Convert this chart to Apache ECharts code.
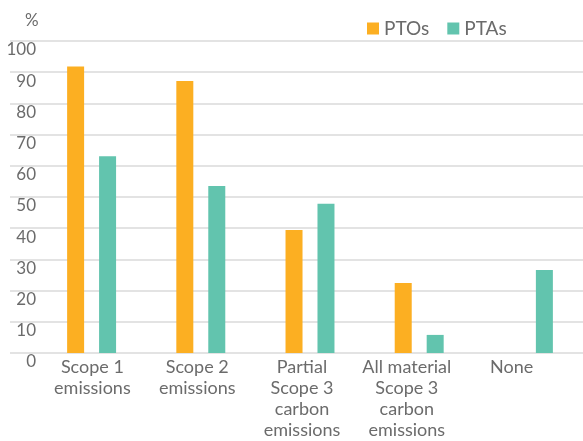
<!DOCTYPE html>
<html>
<head>
<meta charset="utf-8">
<script src="https://cdn.jsdelivr.net/npm/echarts@6/dist/echarts.min.js"></script>
<style>
  html, body { margin: 0; padding: 0; background: #fff; }
  #chart { width: 583px; height: 441px; }
</style>
</head>
<body>
<div id="chart"></div>
<script>
// data
var categories = ['Scope 1\nemissions', 'Scope 2\nemissions', 'Partial\nScope 3\ncarbon\nemissions', 'All material\nScope 3\ncarbon\nemissions', 'None'];
var ptoValues = [91.8, 87.2, 39.4, 22.4, 0];
var ptaValues = [63.1, 53.5, 47.8, 5.8, 26.6];
var seriesNames = ['PTOs', 'PTAs'];
var yTicks = [0, 100, 10]; // min, max, step

var textColor = '#6b6b6b';
var font = 'Lato';

var myChart = echarts.init(document.getElementById('chart'));
var option = {
    animation: false,
    color: ['#FCAF22', '#62C4AE'],
    legend: {
        left: 362,
        top: 14,
        icon: 'rect',
        itemWidth: 12,
        itemHeight: 12,
        itemGap: 18,
        textStyle: {color: textColor, fontSize: 19, fontFamily: font},
        data: seriesNames
    },
    grid: [
        // gridlines + y labels (full width)
        {left: 10, right: 0, top: 41, bottom: 88},
        // bars
        {left: 37, right: 0, top: 41, bottom: 88},
        // category labels
        {left: 40, right: 19, top: 41, bottom: 88}
    ],
    xAxis: [
        {gridIndex: 0, type: 'category', data: categories, show: false},
        {gridIndex: 1, type: 'category', data: categories, show: false},
        {
            gridIndex: 2,
            type: 'category',
            data: categories,
            axisLine: {show: false},
            axisTick: {show: false},
            axisLabel: {
                interval: 0,
                margin: 9,
                color: textColor,
                fontSize: 18,
                lineHeight: 21,
                fontFamily: font
            }
        }
    ],
    yAxis: [
        {
            gridIndex: 0,
            type: 'value',
            min: yTicks[0],
            max: yTicks[1],
            interval: yTicks[2],
            name: '%',
            nameGap: 12,
            nameTextStyle: {color: textColor, fontSize: 17, fontFamily: font, align: 'left', padding: [0, 0, 0, 15]},
            axisLine: {show: false},
            axisTick: {show: false},
            splitLine: {lineStyle: {color: '#dadada', width: 1.5}},
            axisLabel: {
                margin: -26,
                align: 'right',
                color: textColor,
                fontSize: 17,
                fontFamily: font,
                // labels sit just under their gridline
                formatter: function (v) {
                    return '{n|' + v + '}';
                },
                rich: {
                    n: {padding: [18, 0, 0, 0], fontSize: 17, color: textColor, fontFamily: font}
                }
            }
        },
        {gridIndex: 1, type: 'value', min: yTicks[0], max: yTicks[1], show: false, splitLine: {show: false}},
        {gridIndex: 2, type: 'value', min: yTicks[0], max: yTicks[1], show: false, splitLine: {show: false}}
    ],
    series: [
        {
            name: seriesNames[0],
            type: 'bar',
            xAxisIndex: 1,
            yAxisIndex: 1,
            data: ptoValues,
            barWidth: 17,
            barGap: '88%'
        },
        {
            name: seriesNames[1],
            type: 'bar',
            xAxisIndex: 1,
            yAxisIndex: 1,
            data: ptaValues,
            barWidth: 17,
            barGap: '88%'
        }
    ]
};
myChart.setOption(option);
</script>
</body>
</html>
